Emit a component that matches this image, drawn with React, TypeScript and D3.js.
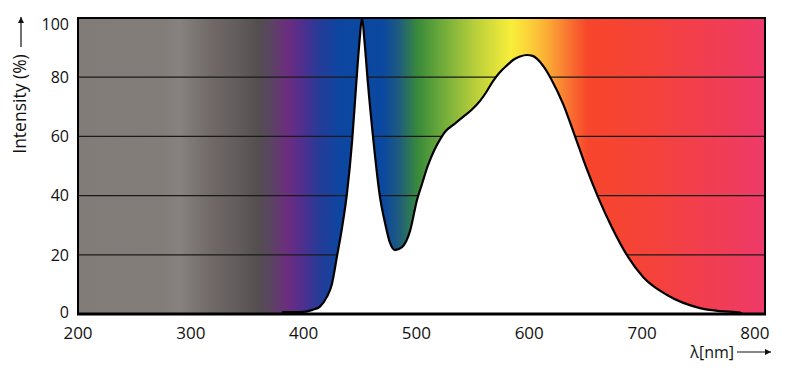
import React from "react";
import * as d3 from "d3";

// ---- data ----
const wavelengths = [381, 381.5, 397, 408, 414.5, 420.5, 425, 429.5, 434, 438.5, 443, 446.5, 449.5, 451.8, 454, 457, 461.5, 467.5, 472.2, 476.6, 481, 487.2, 494.3, 500.5, 505, 510, 516, 521.8, 526, 533, 541.3, 549, 556.4, 562, 567.9, 574, 580.3, 586, 591.8, 598, 603, 607, 613, 620, 630, 640.6, 651, 661, 673, 687.6, 700.9, 722.2, 751.4, 769.1, 786.9, 788.7];
const intensity = [0, 0.6, 0.6, 1.4, 2.5, 5.7, 10, 19.3, 29, 41, 58.5, 77, 92, 100, 92, 78, 60, 40, 30.7, 24, 21.6, 22.6, 28, 38.5, 44, 50, 55.5, 59.5, 61.8, 64, 66.6, 69, 72, 75, 78.7, 81.7, 84, 85.9, 87, 87.5, 87.2, 86.2, 83.5, 79, 71, 60, 49, 39.5, 29.5, 19.3, 12.5, 6.4, 2, 1, 0.5, 0];

const xTicks = [200, 300, 400, 500, 600, 700, 800];
const yTicks = [0, 20, 40, 60, 80, 100];
const gridValues = [20, 40, 60, 80];

const bgWavelengths = [200, 277, 290.4, 301, 321.5, 343.6, 359.6, 370.2, 386.2, 401.2, 414.5, 432.3, 470.4, 483.7, 501.4, 520.9, 552, 583.9, 600.7, 616.7, 636.2, 652.1, 707.1, 778.9, 809];
const bgColors = ["#827c79", "#837d7a", "#878280", "#7d7775", "#6e6766", "#625b5b", "#544e4f", "#5a4560", "#6c2c80", "#4a3090", "#243c98", "#0c46a0", "#0b48a0", "#1d5a80", "#3a8a3a", "#6aa83a", "#b8cf3a", "#f8ee3a", "#fcd03a", "#fbaa35", "#f87030", "#f7462b", "#f5423a", "#f03c5a", "#ee3a6a"];

const yTitle = "Intensity (%)";
const xTitle = "λ[nm]";

export default function App() {
  const W = 800, H = 384;
  const left = 78, right = 765, top = 18, bottom = 314;
  const x = d3.scaleLinear().domain([200, 809]).range([left, right]);
  const y = d3.scaleLinear().domain([0, 100]).range([bottom, top]);
  const pts = wavelengths.map((w, i) => [w, intensity[i]] as [number, number]);
  const area = d3.area<[number, number]>().x(d => x(d[0])).y0(y(0)).y1(d => y(d[1])).curve(d3.curveMonotoneX);
  const line = d3.line<[number, number]>().x(d => x(d[0])).y(d => y(d[1])).curve(d3.curveMonotoneX);
  const font = "'Open Sans', 'Noto Sans', sans-serif";
  const domainW = 809 - 200;

  return (
    <svg width={W} height={H} style={{ position: "absolute", left: 0, top: 0, background: "#fff" }} fontFamily={font}>
      <defs>
        <linearGradient id="spec" x1="0" x2="1" y1="0" y2="0">
          {bgWavelengths.map((w, i) => (
            <stop key={i} offset={(w - 200) / domainW} stopColor={bgColors[i]} />
          ))}
        </linearGradient>
        <marker id="arr" viewBox="0 0 10 10" refX="10" refY="5" markerWidth="8" markerHeight="6" markerUnits="userSpaceOnUse" orient="auto">
          <path d="M0,0 L10,5 L0,10 z" fill="#111" />
        </marker>
      </defs>
      <rect x={left} y={top} width={right - left} height={bottom - top} fill="url(#spec)" />
      {gridValues.map(v => (
        <line key={v} x1={left} x2={right} y1={y(v)} y2={y(v)} stroke="#1a1a1a" strokeWidth={1.2} />
      ))}
      <path d={area(pts) || ""} fill="#fff" />
      <path d={line(pts) || ""} fill="none" stroke="#000" strokeWidth={2.2} strokeLinejoin="round" />
      <rect x={left} y={top} width={right - left} height={bottom - top} fill="none" stroke="#000" strokeWidth={2} />
      <line x1={left - 1} x2={right + 1} y1={bottom} y2={bottom} stroke="#000" strokeWidth={3} />
      {yTicks.map(v => (
        <text key={v} x={69} y={y(v) + (v === 100 ? 6 : v === 0 ? -2 : 0)} dy="0.36em" textAnchor="end" fontSize={16} fill="#111">{v}</text>
      ))}
      {xTicks.map(v => (
        <text key={v} x={x(v)} y={339} textAnchor="middle" fontSize={17} fill="#111">{v}</text>
      ))}
      <text transform="translate(26,104) rotate(-90)" textAnchor="middle" fontSize={17.5} fill="#111">{yTitle}</text>
      <line x1={21} x2={21} y1={47} y2={17} stroke="#111" strokeWidth={1.2} markerEnd="url(#arr)" />
      <text x={734} y={358} textAnchor="end" fontSize={16} fill="#111">{xTitle}</text>
      <line x1={737} x2={771} y1={352} y2={352} stroke="#111" strokeWidth={1.2} markerEnd="url(#arr)" />
    </svg>
  );
}
